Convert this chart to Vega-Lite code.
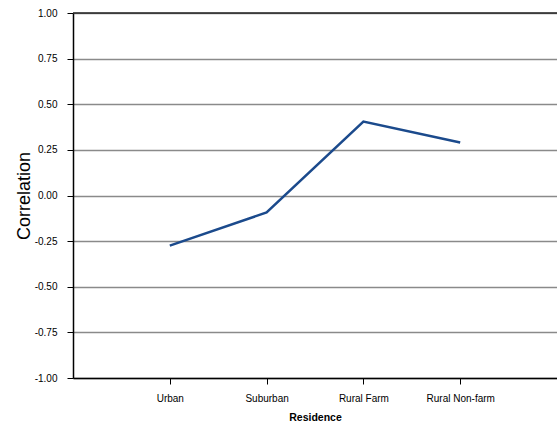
{
  "$schema": "https://vega.github.io/schema/vega-lite/v6.json",
  "width": 484,
  "height": 365,
  "autosize": {"type": "none"},
  "padding": {"left": 73, "top": 13, "right": 0, "bottom": 50},
  "background": "white",
  "config": {
    "view": {"stroke": null},
    "font": "Liberation Sans"
  },
  "datasets": {
    "corr": [
      {"Residence": "Urban", "Correlation": -0.275},
      {"Residence": "Suburban", "Correlation": -0.093},
      {"Residence": "Rural Farm", "Correlation": 0.405},
      {"Residence": "Rural Non-farm", "Correlation": 0.29}
    ],
    "frame": [{"y": 1}]
  },
  "layer": [
    {
      "data": {"name": "corr"},
      "mark": {"type": "line", "color": "#1b4a8c", "strokeWidth": 2.5},
      "encoding": {
        "x": {
          "field": "Residence",
          "type": "nominal",
          "sort": ["Urban", "Suburban", "Rural Farm", "Rural Non-farm"],
          "scale": {"type": "point", "padding": 1},
          "axis": {
            "title": "Residence",
            "titleFont": "Liberation Sans",
            "titleFontSize": 10.5,
            "titleFontWeight": "bold",
            "titleColor": "#000",
            "titlePadding": 9,
            "labelAngle": 0,
            "labelFontSize": 10,
            "labelColor": "#000",
            "labelPadding": 9,
            "tickColor": "#000",
            "tickSize": 6,
            "domainColor": "#000",
            "domainWidth": 1.5,
            "grid": false
          }
        },
        "y": {
          "field": "Correlation",
          "type": "quantitative",
          "scale": {"domain": [-1, 1], "nice": false},
          "axis": {
            "title": "Correlation",
            "titleFont": "Liberation Sans",
            "titleFontSize": 18,
            "titleFontWeight": "normal",
            "titleColor": "#000",
            "titlePadding": 1,
            "values": [-1, -0.75, -0.5, -0.25, 0, 0.25, 0.5, 0.75, 1],
            "labelExpr": "replace(format(datum.value, '.2f'), '\u2212', '-')",
            "labelFontSize": 10,
            "labelColor": "#000",
            "labelPadding": 10,
            "tickColor": "#000",
            "tickSize": 6,
            "domainColor": "#000",
            "domainWidth": 1.5,
            "grid": true,
            "gridColor": "#8a8a8a",
            "gridWidth": 1.5
          }
        }
      }
    },
    {
      "data": {"name": "frame"},
      "mark": {"type": "rule", "color": "#222", "strokeWidth": 1.5},
      "encoding": {
        "y": {"field": "y", "type": "quantitative"}
      }
    }
  ]
}
